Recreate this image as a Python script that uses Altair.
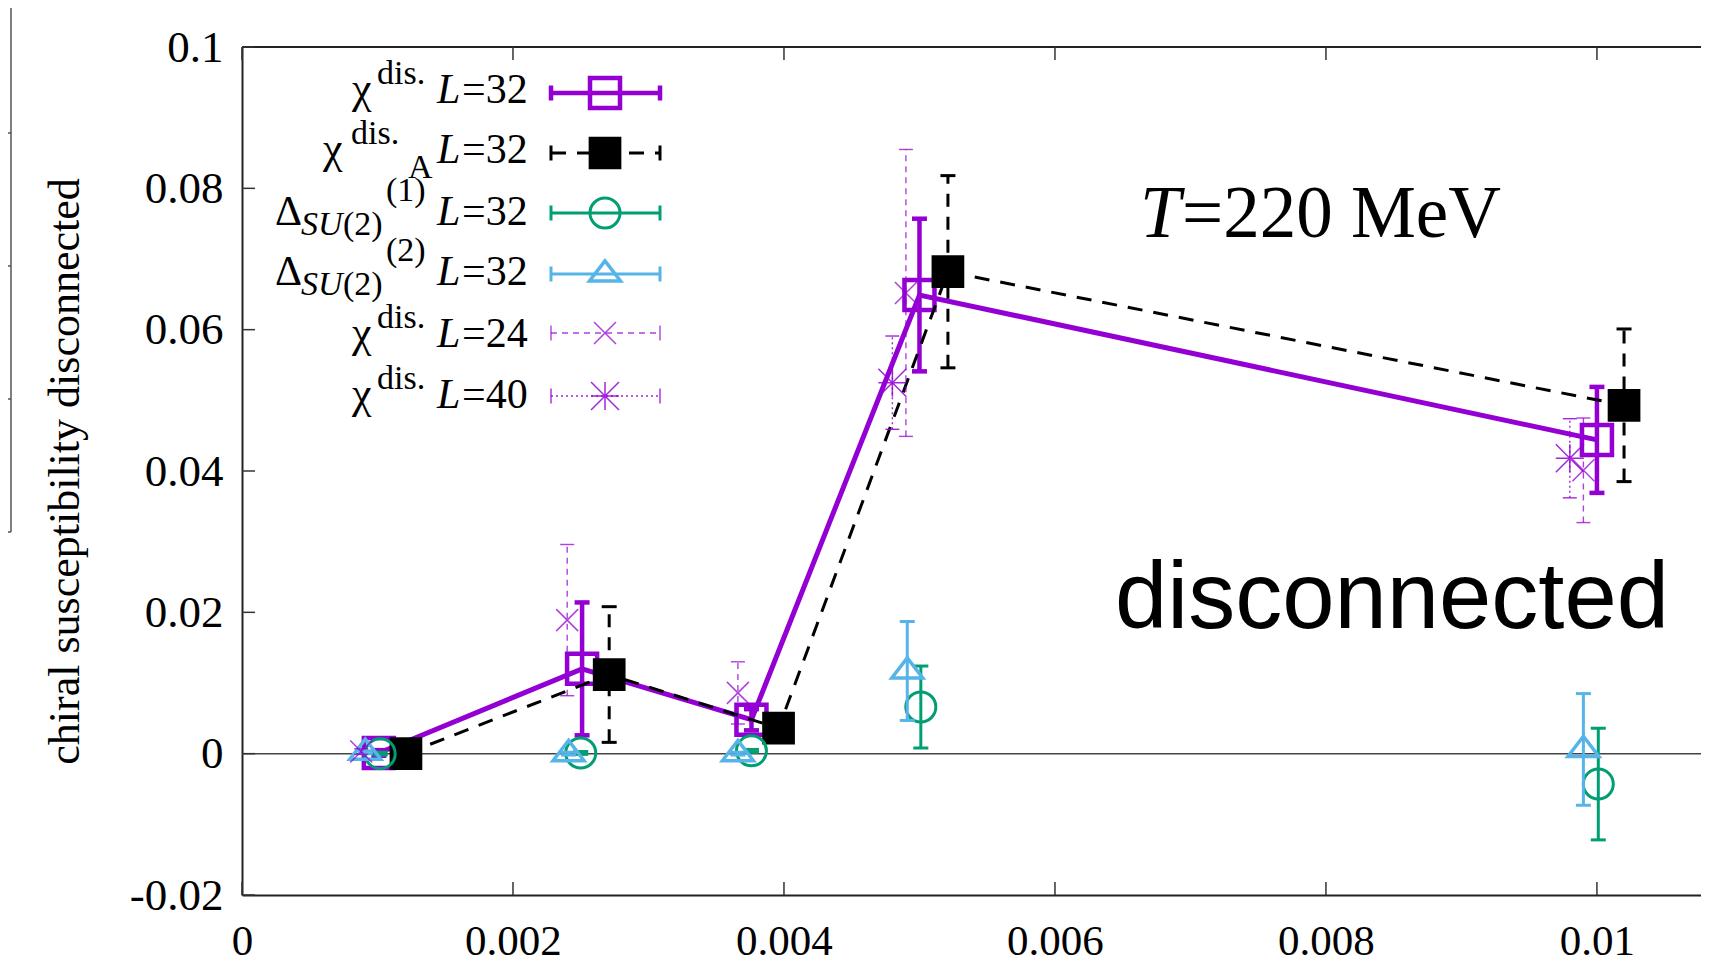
import altair as alt
import pandas as pd

# ---------------- data ----------------
# chi^dis.  L=32
chi32_m = [0.00101, 0.00251, 0.00376, 0.00500, 0.01000]
chi32_val = [0.0001, 0.0120, 0.0048, 0.0649, 0.0444]
chi32_err = [0.0004, 0.0094, 0.0015, 0.0108, 0.0075]
# chi^dis._A  L=32
chiA_m = [0.00121, 0.00271, 0.00396, 0.00521, 0.01020]
chiA_val = [0.0000, 0.0112, 0.0036, 0.0682, 0.0493]
chiA_err = [0.0004, 0.0096, 0.0015, 0.0136, 0.0108]
# Delta_SU(2)^(1)  L=32
d1_m = [0.00102, 0.00250, 0.00376, 0.00501, 0.01001]
d1_val = [0.0000, 0.0001, 0.0004, 0.0066, -0.0043]
d1_err = [0.0002, 0.0002, 0.0002, 0.0058, 0.0079]
# Delta_SU(2)^(2)  L=32
d2_m = [0.00091, 0.00241, 0.00366, 0.00491, 0.00990]
d2_val = [0.0002, 0.0000, 0.0000, 0.0117, 0.0006]
d2_err = [0.0002, 0.0002, 0.0002, 0.0070, 0.0079]
# chi^dis.  L=24
l24_m = [0.00088, 0.00240, 0.00366, 0.00490, 0.00990]
l24_val = [0.0003, 0.0189, 0.0086, 0.0652, 0.0401]
l24_err = [0.0004, 0.0107, 0.0044, 0.0203, 0.0074]
# chi^dis.  L=40
l40_m = [0.00480, 0.00980]
l40_val = [0.0525, 0.0418]
l40_err = [0.0066, 0.0056]

x_ticks = [0, 0.002, 0.004, 0.006, 0.008, 0.01]
y_ticks = [-0.02, 0, 0.02, 0.04, 0.06, 0.08, 0.1]

# ---------------- styling ----------------
W, H = 1459, 848
XMAX = 0.010768
SERIF = "Liberation Serif"
SANS = "Liberation Sans"
PURPLE = "#9400d3"
GREEN = "#009e73"
BLUE = "#56b4e9"
TRI = "M0,-0.85L-1,0.45L1,0.45Z"
XS = "M-1,-1L1,1M-1,1L1,-1"
AST = "M-1,0L1,0M0,-1L0,1M-1,-1L1,1M-1,1L1,-1"

xsc = alt.Scale(domain=[0, XMAX], nice=False, zero=False)
ysc = alt.Scale(domain=[-0.02, 0.1], nice=False, zero=False)

xax = alt.Axis(values=x_ticks, labelExpr="'' + datum.value", title="",
               grid=False, ticks=False, tickSize=0, domain=True,
               domainColor="#222", domainWidth=2, labelFont=SERIF,
               labelFontSize=43, labelColor="black", labelPadding=59,
               labelBaseline="alphabetic", labelFlush=False,
               labelOverlap=False, labelBound=False)
yax = alt.Axis(values=y_ticks, labelExpr="'' + datum.value",
               title="chiral susceptibility disconnected",
               grid=False, ticks=False, tickSize=0, domain=True,
               domainColor="#222", domainWidth=2, labelFont=SERIF,
               labelFontSize=45, labelColor="black", labelPadding=19,
               labelFlush=False, labelOverlap=False, labelBound=False,
               titleFont=SERIF, titleFontSize=44, titleFontWeight="normal",
               titleColor="black", titleX=-177, titleY=424,
               titleAlign="center", titleBaseline="middle")


def ex(f="m"):
    return alt.X(f"{f}:Q", scale=xsc, axis=xax)


def ey(f="v"):
    return alt.Y(f"{f}:Q", scale=ysc, axis=yax)


def frame(m, v, e):
    return pd.DataFrame({"m": m, "v": v,
                         "lo": [a - b for a, b in zip(v, e)],
                         "hi": [a + b for a, b in zip(v, e)]})


def series(df, color, point, bar_w, cap_len=15, line_w=None, line_dash=None,
           bar_dash=None, opacity=1.0):
    base = alt.Chart(df)
    out = []
    if line_w:
        kw = dict(color=color, strokeWidth=line_w)
        if line_dash:
            kw["strokeDash"] = line_dash
        out.append(base.mark_line(**kw).encode(x=ex(), y=ey("v")))
    kw = dict(color=color, strokeWidth=bar_w, opacity=opacity)
    if bar_dash:
        kw["strokeDash"] = bar_dash
    out.append(base.mark_rule(**kw).encode(x=ex(), y=ey("lo"), y2="hi"))
    for f in ("lo", "hi"):
        out.append(base.mark_rule(color=color, strokeWidth=bar_w, opacity=opacity,
                                  xOffset=-cap_len / 2, x2Offset=cap_len / 2)
                   .encode(x=ex(), x2="m", y=ey(f)))
    out.append(base.mark_point(opacity=1, **point).encode(x=ex(), y=ey("v")))
    return out


one = pd.DataFrame({"a": [0]})


def txt(s, x, y, size=42, italic=False, font=SERIF):
    kw = dict(text=s, font=font, fontSize=size, align="left",
              baseline="alphabetic", color="black")
    if italic:
        kw["fontStyle"] = "italic"
    return alt.Chart(one).mark_text(**kw).encode(x=alt.value(x), y=alt.value(y))


def hrule(x1, x2, y, color, w, dash=None, opacity=1.0):
    kw = dict(color=color, strokeWidth=w, opacity=opacity)
    if dash:
        kw["strokeDash"] = dash
    return alt.Chart(one).mark_rule(**kw).encode(
        x=alt.value(x1), x2=alt.value(x2), y=alt.value(y))


def vrule(x, y1, y2, color, w, opacity=1.0):
    return alt.Chart(one).mark_rule(color=color, strokeWidth=w, opacity=opacity).encode(
        x=alt.value(x), y=alt.value(y1), y2=alt.value(y2))


def sample_point(x, y, point):
    return alt.Chart(one).mark_point(opacity=1, **point).encode(
        x=alt.value(x), y=alt.value(y))


P32 = dict(shape="square", filled=False, size=900, strokeWidth=4.5, color=PURPLE)
PA = dict(shape="square", filled=True, size=1070, color="black")
P1 = dict(shape="circle", filled=False, size=900, strokeWidth=3, color=GREEN)
P2 = dict(shape=TRI, filled=False, size=961, strokeWidth=3.5, color=BLUE)
P24 = dict(shape=XS, filled=False, size=484, strokeWidth=1.5, color=PURPLE, strokeOpacity=0.75)
P40 = dict(shape=AST, filled=False, size=784, strokeWidth=1.5, color=PURPLE, strokeOpacity=0.85)

layers = []

# zero axis line
layers.append(alt.Chart(one).mark_rule(color="#444", strokeWidth=1.5).encode(
    y=alt.datum(0, scale=ysc, axis=yax), x=alt.value(0), x2=alt.value(W)))
# top border
layers.append(hrule(0, W, 0, "#222", 2))

# inward ticks
ytk = pd.DataFrame({"t": y_ticks})
xtk = pd.DataFrame({"t": x_ticks})
layers.append(alt.Chart(ytk).mark_rule(color="#333", strokeWidth=1.5).encode(
    y=alt.Y("t:Q", scale=ysc, axis=yax), x=alt.value(0), x2=alt.value(13)))
layers.append(alt.Chart(xtk).mark_rule(color="#333", strokeWidth=1.5).encode(
    x=alt.X("t:Q", scale=xsc, axis=xax), y=alt.value(H), y2=alt.value(H - 13)))
layers.append(alt.Chart(xtk).mark_rule(color="#333", strokeWidth=1.5).encode(
    x=alt.X("t:Q", scale=xsc, axis=xax), y=alt.value(0), y2=alt.value(13)))

# data series
layers += series(frame(chi32_m, chi32_val, chi32_err), PURPLE, P32, bar_w=4.5, line_w=5)
layers += series(frame(chiA_m, chiA_val, chiA_err), "black", PA, bar_w=3,
                 line_w=3, line_dash=[15, 11], bar_dash=[13, 10])
layers += series(frame(d1_m, d1_val, d1_err), GREEN, P1, bar_w=3)
layers += series(frame(d2_m, d2_val, d2_err), BLUE, P2, bar_w=3)
layers += series(frame(l24_m, l24_val, l24_err), PURPLE, P24, bar_w=1.4,
                 cap_len=14, bar_dash=[6, 5], opacity=0.75)
layers += series(frame(l40_m, l40_val, l40_err), PURPLE, P40, bar_w=1.4,
                 cap_len=14, bar_dash=[2, 3], opacity=0.85)

# annotations
layers.append(txt("T", 898, 190, size=73, italic=True))
layers.append(txt("=220 MeV", 940, 190, size=73))
layers.append(txt("disconnected", 873, 581, size=94, font=SANS))

# legend labels
rows_b = [56, 116, 178, 238, 300, 361]
Ls = ["=32", "=32", "=32", "=32", "=24", "=40"]
for b, s in zip(rows_b, Ls):
    layers.append(txt("L", 195, b, italic=True))
    layers.append(txt(s, 220, b))
layers.append(txt("χ", 110, 56, size=44))
layers.append(txt("dis.", 135, 37, size=34))
layers.append(txt("χ", 81, 116, size=44))
layers.append(txt("dis.", 109, 97, size=34))
layers.append(txt("A", 166, 131, size=34))
for b, sup in ((178, "(1)"), (238, "(2)")):
    layers.append(txt("Δ", 33, b))
    layers.append(txt("SU", 59, b + 10, size=34, italic=True))
    layers.append(txt("(2)", 101, b + 10, size=34))
    layers.append(txt(sup, 144, b - 24, size=34))
for b in (300, 361):
    layers.append(txt("χ", 110, b, size=44))
    layers.append(txt("dis.", 135, b - 19, size=34))

# legend samples
SX1, SX2, SXM = 309, 418, 363
samples = [
    (46, PURPLE, 4.5, None, 1.0, P32),
    (106, "black", 3, [15, 11], 1.0, PA),
    (166, GREEN, 3, None, 1.0, P1),
    (227, BLUE, 3, None, 1.0, P2),
    (286, PURPLE, 1.4, [6, 5], 0.75, P24),
    (349, PURPLE, 1.4, [2, 3], 0.85, P40),
]
for y, c, w, dash, op, pt in samples:
    layers.append(hrule(SX1, SX2, y, c, w, dash, op))
    layers.append(vrule(SX1, y - 7.5, y + 7.5, c, w, op))
    layers.append(vrule(SX2, y - 7.5, y + 7.5, c, w, op))
    layers.append(sample_point(SXM, y, pt))

# fragment of the neighbouring panel at the far left
layers.append(vrule(-231, -47, 485, "#555", 1.5))
for yy in (86, 219, 352, 485):
    layers.append(hrule(-242, -231, yy, "#555", 1.5))

chart = alt.layer(*layers).properties(
    width=W, height=H,
    autosize=alt.AutoSizeParams(type="none"),
    padding={"left": 234, "top": 39, "right": 0, "bottom": 73},
    background="white",
).configure_view(strokeWidth=0)

chart.save("out.html", embed_options={"renderer": "svg", "actions": False})
